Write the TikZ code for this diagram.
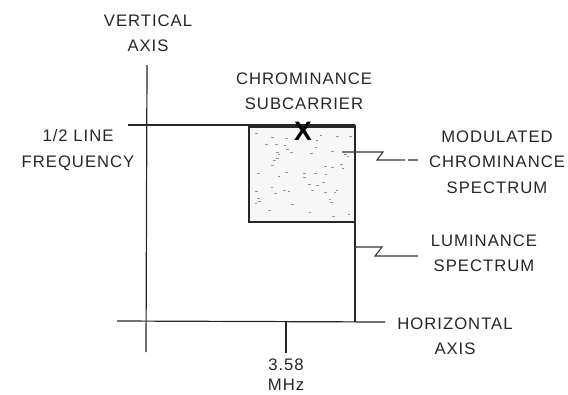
\documentclass[tikz,border=0pt]{standalone}
\usepackage{fontspec}
\setmainfont[LetterSpace=6]{Liberation Sans}
\usetikzlibrary{positioning}

\begin{document}
\begin{tikzpicture}[x=0.75pt, y=-0.75pt,
  axis/.style={line width=0.9pt, color=black!85},
  edge/.style={line width=1.2pt, color=black!85},
  callout/.style={line width=0.8pt, color=black!80},
  label/.style={font=\fontsize{12.5}{19}\selectfont, align=center,
                text=black!85, inner sep=0pt},
  dot/.style={fill=black!40}
]
\useasboundingbox (0,0) rectangle (568,394);

% axes
\coordinate (vtop) at (147,65);
\coordinate (vbot) at (146,352);
\coordinate (hleft) at (117,321);
\coordinate (hright) at (385,322);
\coordinate (tick) at (286,322);
\coordinate (tickend) at (286,353);
\draw[axis] (vtop) -- (vbot);
\draw[axis] (hleft) -- (hright);
\draw[axis] (tick) -- (tickend);

% luminance spectrum outline
\coordinate (lumtl) at (128,125);
\coordinate (lumtr) at (355,125);
\coordinate (lumbr) at (355,322);
\draw[edge] (lumtl) -- (lumtr);
\draw[axis] (lumtr) -- (lumbr);

% chrominance spectrum
\coordinate (chrtl) at (249,127);
\coordinate (chrbr) at (355,222);
\fill[black!3] (chrtl) rectangle (chrbr);
\pgfmathsetseed{11}
\foreach \i in {1,...,55}
  \fill[dot] ({254+96*rnd},{132+86*rnd}) rectangle ++(2.5,1);
\draw[edge] (chrtl) rectangle (chrbr);
\node[font=\fontsize{20}{20}\selectfont\bfseries, inner sep=0pt] (sub) at (303,131) {X};

% callouts
\coordinate (modstart) at (342,152);
\coordinate (modend) at (405,160);
\draw[callout] (modstart) -- (383,152) -- (377,160) -- (modend);
\draw[callout, black!55] (408,160) -- (418,160);
\coordinate (lumstart) at (355,247);
\coordinate (lumend) at (418,256);
\draw[callout] (lumstart) -- (382,247) -- (375,256) -- (lumend);

% labels
\node[label] (vert) at (148,33) {VERTICAL\\AXIS};
\node[label] (half) at (78,150) {1/2 LINE\\FREQUENCY};
\node[label] (chroma) at (304,91) {CHROMINANCE\\SUBCARRIER};
\node[label] (modul) at (497,162) {MODULATED\\CHROMINANCE\\SPECTRUM};
\node[label] (luma) at (484,253) {LUMINANCE\\SPECTRUM};
\node[label] (horiz) at (455,336) {HORIZONTAL\\AXIS};
\node[label, font=\fontsize{12.5}{15}\selectfont] (freq) at (286,375) {3.58\\MHz};

\end{tikzpicture}
\end{document}
